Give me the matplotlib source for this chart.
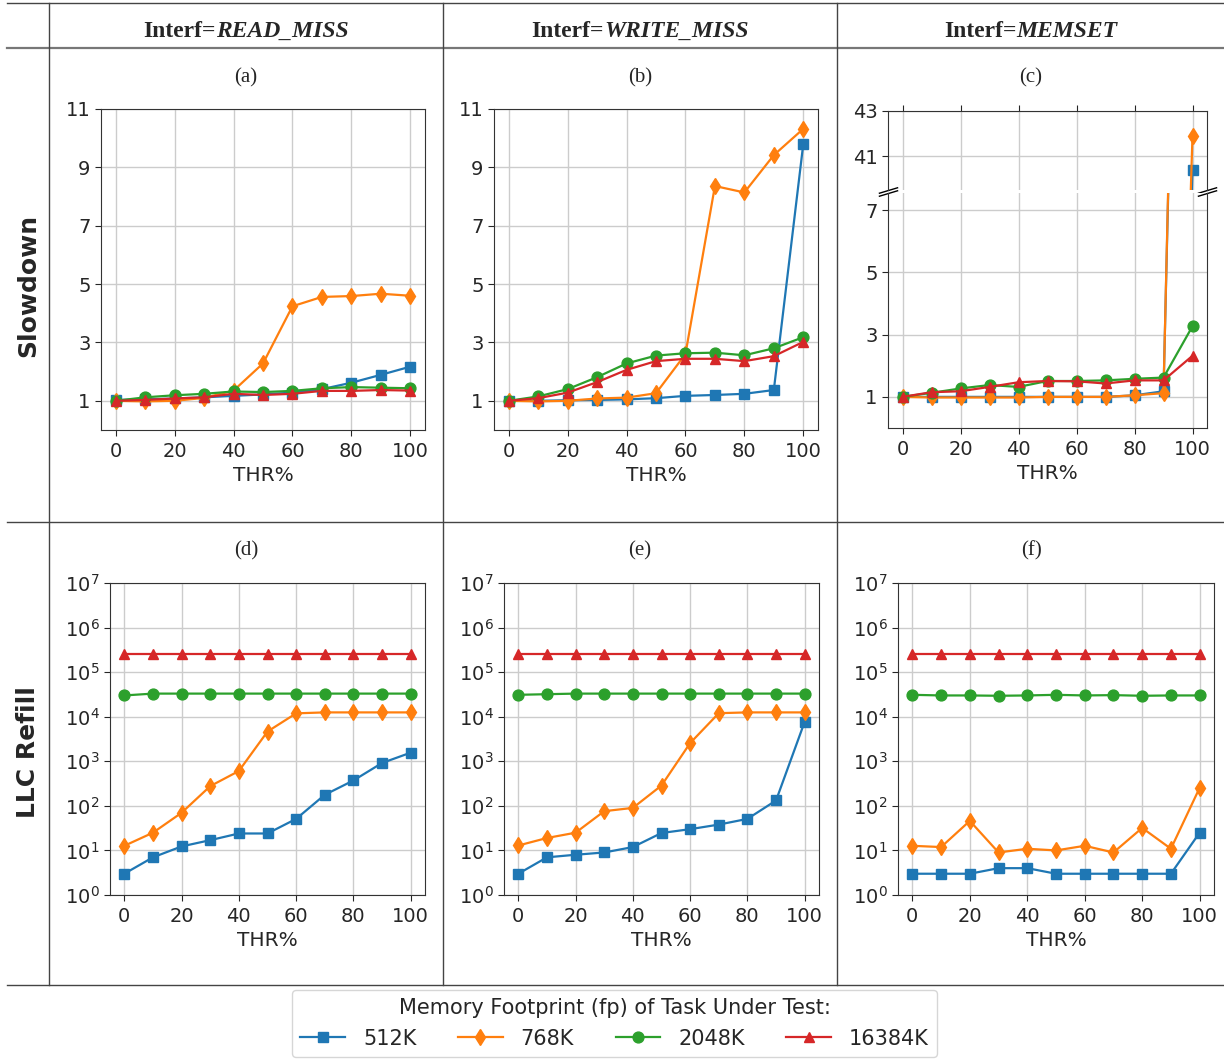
"""plot.py -- slowdown and LLC refill vs THR% for three interference types."""
import numpy as np
import matplotlib
matplotlib.use("Agg")
import matplotlib.pyplot as plt
from matplotlib.lines import Line2D
from matplotlib.ticker import NullLocator

W, H = 1224, 1059

thr = [0, 10, 20, 30, 40, 50, 60, 70, 80, 90, 100]
footprints = ["512K", "768K", "2048K", "16384K"]
interfs = ["READ_MISS", "WRITE_MISS", "MEMSET"]
panel_tags = ["(a)", "(b)", "(c)", "(d)", "(e)", "(f)"]

# slowdown, rows = 512K, 768K, 2048K, 16384K
slow_read = [
    [1.03, 1.05, 1.08, 1.12, 1.17, 1.22, 1.28, 1.40, 1.62, 1.89, 2.17],
    [1.00, 0.98, 1.00, 1.10, 1.35, 2.28, 4.24, 4.56, 4.59, 4.67, 4.60],
    [1.00, 1.12, 1.19, 1.24, 1.32, 1.30, 1.34, 1.43, 1.47, 1.45, 1.43],
    [1.00, 1.03, 1.08, 1.12, 1.24, 1.20, 1.24, 1.34, 1.34, 1.37, 1.35],
]
slow_write = [
    [1.00, 1.00, 1.02, 1.03, 1.05, 1.09, 1.17, 1.20, 1.24, 1.37, 9.80],
    [1.00, 0.98, 1.00, 1.08, 1.11, 1.26, 2.60, 8.36, 8.14, 9.42, 10.32],
    [1.00, 1.15, 1.40, 1.81, 2.28, 2.55, 2.63, 2.65, 2.56, 2.80, 3.18],
    [1.00, 1.09, 1.28, 1.64, 2.06, 2.36, 2.44, 2.44, 2.36, 2.53, 3.02],
]
slow_memset = [
    [1.00, 1.00, 1.00, 1.00, 1.00, 1.00, 1.00, 1.00, 1.05, 1.18, 40.4],
    [1.00, 0.98, 0.98, 0.98, 0.98, 1.00, 1.00, 1.00, 1.05, 1.12, 41.9],
    [1.00, 1.13, 1.27, 1.38, 1.32, 1.51, 1.51, 1.53, 1.58, 1.62, 3.27],
    [1.00, 1.15, 1.18, 1.32, 1.47, 1.51, 1.50, 1.43, 1.53, 1.53, 2.32],
]

# LLC refills
llc_read = [
    [3, 7, 12.3, 17, 24, 24, 51, 177, 371, 916, 1560],
    [12.7, 25, 70, 277, 605, 4650, 11900, 12500, 12500, 12500, 12500],
    [3.0e4, 3.3e4, 3.3e4, 3.3e4, 3.3e4, 3.3e4, 3.3e4, 3.3e4, 3.3e4, 3.3e4, 3.3e4],
    [2.6e5, 2.6e5, 2.6e5, 2.6e5, 2.6e5, 2.6e5, 2.6e5, 2.6e5, 2.6e5, 2.6e5, 2.6e5],
]
llc_write = [
    [3, 7, 8, 9, 11.9, 24.6, 30, 38, 51, 132, 7700],
    [12.9, 19, 25, 76, 90, 286, 2560, 12000, 12500, 12500, 12500],
    [3.1e4, 3.2e4, 3.3e4, 3.3e4, 3.3e4, 3.3e4, 3.3e4, 3.3e4, 3.3e4, 3.3e4, 3.3e4],
    [2.6e5, 2.6e5, 2.6e5, 2.6e5, 2.6e5, 2.6e5, 2.6e5, 2.6e5, 2.6e5, 2.6e5, 2.6e5],
]
llc_memset = [
    [3, 3, 3, 4, 4, 3, 3, 3, 3, 3, 25],
    [12.7, 11.9, 46, 9, 10.9, 10, 12.7, 9, 32, 10.9, 254],
    [3.1e4, 3.0e4, 3.0e4, 2.95e4, 3.0e4, 3.1e4, 3.0e4, 3.05e4, 2.95e4, 3.0e4, 3.0e4],
    [2.6e5, 2.6e5, 2.6e5, 2.6e5, 2.6e5, 2.6e5, 2.6e5, 2.6e5, 2.6e5, 2.6e5, 2.6e5],
]

COLORS = ["#1f77b4", "#ff7f0e", "#2ca02c", "#d62728"]
MARKERS = ["s", "d", "o", "^"]
SERIF = "Liberation Serif"
INK = "#262626"
MS = 7.8

plt.rcParams.update({
    "font.family": "DejaVu Sans",
    "font.size": 14,
    "text.color": INK,
    "axes.labelcolor": INK,
    "axes.edgecolor": "#333333",
    "xtick.color": INK,
    "ytick.color": INK,
    "xtick.labelsize": 14,
    "ytick.labelsize": 14,
    "xtick.major.size": 4,
    "ytick.major.size": 4,
    "xtick.major.pad": 4.5,
    "ytick.major.pad": 3.5,
})


def px_rect(left, top, right, bottom):
    return [left / W, 1 - bottom / H, (right - left) / W, (bottom - top) / H]


def style(ax, xlabel=True):
    ax.grid(True, color="#cccccc", linewidth=1)
    ax.set_axisbelow(True)
    ax.set_xticks([0, 20, 40, 60, 80, 100])
    if xlabel:
        ax.set_xlabel("THR%", fontsize=14.5, labelpad=4)


def draw_lines(ax, rows):
    for vals, c, m in zip(rows, COLORS, MARKERS):
        ax.plot(thr, vals, color=c, marker=m, markersize=MS, linewidth=1.6)


def fig_line(fig, x0, y0, x1, y1, color="#444444", lw=1.0):
    fig.add_artist(Line2D([x0 / W, x1 / W], [1 - y0 / H, 1 - y1 / H],
                          transform=fig.transFigure, color=color, linewidth=lw))


fig = plt.figure(figsize=(W / 100, H / 100), dpi=100)

# --- table rules ---
fig_line(fig, 7, 3, W, 3)
fig_line(fig, 7, 48, W, 48, color="#777777", lw=1.6)
fig_line(fig, 7, 522, W, 522)
fig_line(fig, 7, 985, W, 985)
for x in [49, 443, 837]:
    fig_line(fig, x, 3, x, 985)

cell_centers = [246, 640, 1031]

# --- column headers ---
renderer = fig.canvas.get_renderer()
for xc, name in zip(cell_centers, interfs):
    t1 = fig.text(0, 1 - 37 / H, "Interf=", family=SERIF, fontweight="bold",
                  fontsize=17, va="baseline")
    t2 = fig.text(0, 1 - 37 / H, name, family=SERIF, fontweight="bold",
                  fontstyle="italic", fontsize=17, va="baseline")
    w1 = t1.get_window_extent(renderer).width
    w2 = t2.get_window_extent(renderer).width
    left = xc - (w1 + w2) / 2
    t1.set_x(left / W)
    t2.set_x((left + w1) / W)

# --- row labels ---
fig.text(28 / W, 1 - 285 / H, "Slowdown", rotation=90, fontweight="bold",
         fontsize=18, ha="center", va="center")
fig.text(28 / W, 1 - 752 / H, "LLC Refill", rotation=90, fontweight="bold",
         fontsize=18, ha="center", va="center")

# --- panel tags ---
for i, xc in enumerate(cell_centers):
    fig.text(xc / W, 1 - 78 / H, panel_tags[i], family=SERIF, fontsize=15,
             ha="center", va="center")
    fig.text(xc / W, 1 - 551 / H, panel_tags[i + 3], family=SERIF, fontsize=15,
             ha="center", va="center")

# --- slowdown (a), (b) ---
for left, right, rows in [(101, 425, slow_read), (494, 818, slow_write)]:
    ax = fig.add_axes(px_rect(left, 109, right, 430))
    draw_lines(ax, rows)
    ax.set_ylim(0, 11)
    ax.set_yticks([1, 3, 5, 7, 9, 11])
    style(ax)

# --- slowdown (c), broken axis ---
ax_top = fig.add_axes(px_rect(888, 111, 1207, 190))
ax_bot = fig.add_axes(px_rect(888, 193, 1207, 428))
for ax in (ax_top, ax_bot):
    draw_lines(ax, slow_memset)
ax_top.set_ylim(39.5, 43)
ax_top.set_yticks([41, 43])
ax_bot.set_ylim(0, 7.55)
ax_bot.set_yticks([1, 3, 5, 7])
style(ax_top, xlabel=False)
style(ax_bot)
ax_top.spines["bottom"].set_visible(False)
ax_bot.spines["top"].set_visible(False)
ax_top.xaxis.tick_top()
ax_top.tick_params(labeltop=False)
d = 0.3
brk = dict(marker=[(-1, -d), (1, d)], markersize=14, linestyle="none",
           color="k", mec="k", mew=1, clip_on=False)
ax_top.plot([0, 1], [0, 0], transform=ax_top.transAxes, **brk)
ax_bot.plot([0, 1], [1, 1], transform=ax_bot.transAxes, **brk)

# --- LLC refill (d), (e), (f) ---
for left, right, rows in [(110, 425, llc_read), (504, 819, llc_write),
                          (898, 1214, llc_memset)]:
    ax = fig.add_axes(px_rect(left, 583, right, 895))
    draw_lines(ax, rows)
    ax.set_yscale("log")
    ax.set_ylim(1, 1e7)
    ax.set_yticks([10.0 ** k for k in range(8)])
    ax.yaxis.set_minor_locator(NullLocator())
    style(ax)

# --- legend ---
handles = [Line2D([], [], color=c, marker=m, markersize=MS, linewidth=1.6)
           for c, m in zip(COLORS, MARKERS)]
fig.legend(handles, footprints, loc="upper center",
           bbox_to_anchor=(614.5 / W, 1 - 990 / H), ncol=4, fontsize=15,
           title="Memory Footprint (fp) of Task Under Test:", title_fontsize=15,
           frameon=True, edgecolor="#cccccc", handlelength=2.15,
           handletextpad=0.85, columnspacing=2.0, borderaxespad=0)

fig.savefig("out.png", dpi=100)
